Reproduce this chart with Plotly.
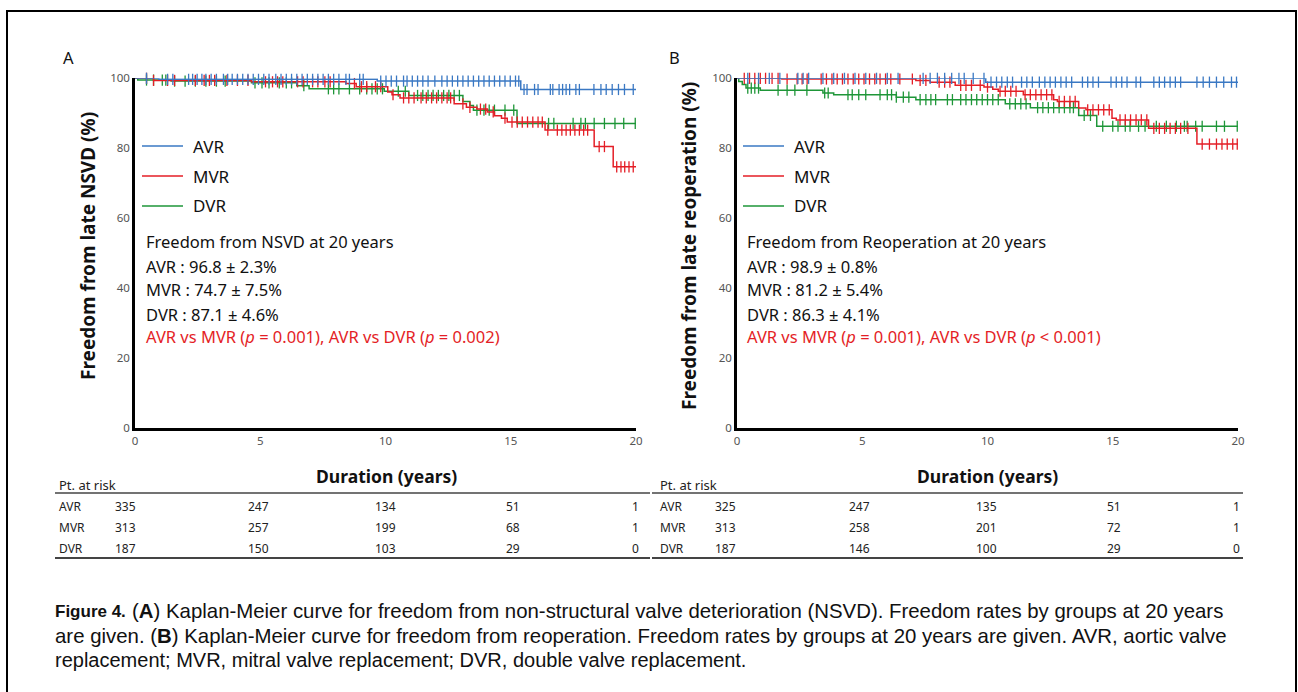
import numpy as np
import plotly.graph_objects as go

W, H = 1298, 692

# ---------------- DATA ----------------
groups = ["AVR", "MVR", "DVR"]
colors = {"AVR": "#3a78c3", "MVR": "#e41e26", "DVR": "#1e9638"}

# Panel A: freedom from late NSVD (step times in years, survival %)
a_avr_t = [0, 0.95, 9.67, 15.4]
a_avr_s = [100, 99.7, 99.2, 96.8]
a_mvr_t = [0, 0.74, 4.65, 8.42, 8.83, 10.09, 10.26, 10.58, 12.74, 13.23, 13.65, 14.07, 14.35, 14.63, 14.86, 16.37, 18.33, 19.09]
a_mvr_s = [100, 99.4, 99.0, 98.5, 97.6, 96.1, 95.3, 94.4, 92.7, 91.7, 91.2, 90.4, 89.3, 88.6, 87.5, 85.2, 80.5, 74.7]
a_dvr_t = [0, 0.11, 1.44, 4.65, 6.46, 6.95, 9.95, 10.93, 13.09, 13.37, 13.51, 15.25]
a_dvr_s = [100, 99.5, 99.2, 98.7, 97.9, 97.0, 96.3, 95.1, 93.4, 92.2, 90.9, 87.1]

a_avr_c = [0.46, 1.30, 1.51, 2.14, 2.30, 2.48, 2.67, 2.83, 3.04, 3.25, 3.53, 3.70, 3.88, 4.09, 4.30, 4.51, 4.72,
           4.93, 5.14, 5.35, 5.62, 5.83, 6.04, 6.25, 6.46, 6.67, 6.88, 7.09, 7.30, 7.51, 7.72, 7.93, 8.14, 8.42,
           8.56, 8.97, 9.11, 9.81, 10.02, 10.23, 10.44, 10.72, 10.86, 11.07, 11.28, 11.49, 11.70, 11.97, 12.25,
           12.46, 12.67, 12.88, 13.09, 13.30, 13.51, 13.72, 13.93, 14.14, 14.35, 14.56, 14.77, 14.98, 15.19,
           15.32, 15.53, 15.65, 15.95, 16.09, 16.58, 16.68, 16.93, 17.07, 17.21, 17.35, 17.60, 17.74, 18.32,
           18.60, 18.81, 19.05, 19.30, 19.54, 19.89]
a_mvr_c = [0.46, 0.74, 1.30, 1.58, 2.41, 2.76, 2.97, 3.18, 3.67, 4.09, 4.51, 5.21, 5.49, 5.69, 5.90, 6.49, 6.71,
           7.09, 7.30, 7.58, 7.79, 8.76, 9.04, 9.25, 9.60, 9.81, 10.30, 10.72, 10.93, 11.14, 11.42, 11.63, 11.84,
           12.04, 12.25, 12.46, 12.60, 13.09, 13.37, 13.79, 14.00, 14.30, 14.77, 15.05, 15.26, 15.46, 15.67,
           15.88, 16.09, 16.26, 16.48, 16.86, 17.04, 17.21, 17.38, 17.56, 17.74, 17.91, 18.07, 18.53, 18.74,
           19.23, 19.40, 19.55, 19.72, 19.89]
a_dvr_c = [0.46, 0.74, 1.09, 1.23, 1.58, 2.00, 2.41, 2.83, 3.25, 3.60, 4.79, 5.07, 5.35, 5.76, 6.04, 6.25, 6.74,
           7.72, 7.93, 8.14, 8.56, 8.97, 9.25, 9.46, 9.67, 9.88, 10.51, 10.79, 11.28, 11.49, 11.70, 11.90, 12.11,
           12.32, 12.53, 12.74, 12.95, 13.65, 13.93, 14.14, 14.35, 14.77, 15.12, 16.51, 16.72, 17.49, 17.80,
           17.98, 18.33, 18.74, 19.16, 19.51, 19.97]

# Panel B: freedom from late reoperation
b_avr_t = [0, 9.93]
b_avr_s = [100, 98.9]
b_mvr_t = [0, 1.79, 7.14, 7.71, 8.71, 9.86, 10.21, 10.43, 11.43, 12.64, 12.79, 13.64, 13.93, 14.97, 15.14, 16.43, 18.36]
b_mvr_s = [100, 99.8, 99.4, 98.9, 98.0, 97.5, 96.9, 96.3, 95.3, 93.9, 93.4, 91.5, 91.0, 88.6, 88.1, 85.7, 81.2]
b_dvr_t = [0, 0.07, 0.21, 0.36, 0.93, 3.43, 3.86, 6.36, 7.14, 10.71, 11.71, 13.64, 14.36]
b_dvr_s = [100, 99.1, 98.2, 97.2, 96.6, 95.8, 95.3, 94.6, 93.9, 92.7, 91.6, 89.4, 86.3]

b_avr_c = [0.43, 0.86, 1.29, 1.71, 2.43, 2.64, 2.86, 3.43, 3.86, 4.29, 4.71, 5.14, 5.57, 6.00, 6.43, 7.43, 7.71,
           8.00, 8.29, 8.57, 8.86, 9.07, 9.43, 9.86, 10.14, 10.36, 10.57, 10.79, 11.00, 11.36, 11.57, 11.79,
           12.07, 12.29, 12.50, 12.71, 12.93, 13.14, 13.36, 13.79, 14.00, 14.21, 14.43, 14.93, 15.14, 15.36,
           15.57, 15.93, 16.11, 16.64, 16.86, 17.07, 17.29, 17.50, 17.71, 18.36, 18.61, 18.86, 19.14, 19.43,
           19.74, 19.94]
b_mvr_c = [0.29, 0.50, 0.71, 0.93, 1.14, 1.40, 1.64, 2.00, 2.40, 2.60, 2.80, 3.36, 3.57, 3.79, 4.00, 4.21, 4.43,
           4.64, 4.86, 5.07, 5.29, 5.50, 5.71, 5.93, 6.14, 6.50, 7.00, 7.31, 7.54, 8.07, 8.29, 8.50, 8.93, 9.14,
           9.36, 9.71, 10.00, 10.50, 10.71, 10.93, 11.14, 11.50, 11.71, 11.93, 12.14, 12.36, 12.57, 12.86, 13.07,
           13.29, 13.50, 14.00, 14.21, 14.43, 14.64, 14.86, 15.29, 15.50, 15.71, 15.93, 16.14, 16.36, 16.64,
           16.86, 17.07, 17.29, 17.50, 17.71, 18.00, 18.57, 18.86, 19.14, 19.36, 19.57, 19.79, 19.97]
b_dvr_c = [0.43, 0.57, 0.71, 0.86, 1.64, 2.00, 2.31, 2.79, 3.50, 3.64, 4.43, 4.60, 4.86, 5.14, 5.71, 6.00, 6.17,
           6.36, 6.64, 6.86, 7.31, 7.54, 7.74, 7.93, 8.40, 8.60, 8.93, 9.14, 9.36, 9.57, 9.79, 10.00, 10.21,
           10.43, 10.89, 11.11, 11.33, 11.54, 12.00, 12.21, 12.43, 12.64, 12.86, 13.07, 13.29, 13.43, 13.86,
           14.11, 14.60, 15.00, 15.21, 15.50, 15.69, 16.03, 16.29, 16.74, 17.14, 17.54, 17.86, 17.97, 18.31,
           18.57, 19.14, 19.46, 19.97]

# Numbers at risk at 0, 5, 10, 15, 20 years
risk_years = [0, 5, 10, 15, 20]
a_risk = {"AVR": [335, 247, 134, 51, 1], "MVR": [313, 257, 199, 68, 1], "DVR": [187, 150, 103, 29, 0]}
b_risk = {"AVR": [325, 247, 135, 51, 1], "MVR": [313, 258, 201, 72, 1], "DVR": [187, 146, 100, 29, 0]}

a_stats = ["AVR : 96.8 ± 2.3%", "MVR : 74.7 ± 7.5%", "DVR : 87.1 ± 4.6%"]
b_stats = ["AVR : 98.9 ± 0.8%", "MVR : 81.2 ± 5.4%", "DVR : 86.3 ± 4.1%"]
a_pval = "AVR vs MVR (<i>p</i> = 0.001), AVR vs DVR (<i>p</i> = 0.002)"
b_pval = "AVR vs MVR (<i>p</i> = 0.001), AVR vs DVR (<i>p</i> < 0.001)"

panel_A = {"AVR": (a_avr_t, a_avr_s, a_avr_c), "MVR": (a_mvr_t, a_mvr_s, a_mvr_c), "DVR": (a_dvr_t, a_dvr_s, a_dvr_c)}
panel_B = {"AVR": (b_avr_t, b_avr_s, b_avr_c), "MVR": (b_mvr_t, b_mvr_s, b_mvr_c), "DVR": (b_dvr_t, b_dvr_s, b_dvr_c)}

# ---------------- FIGURE ----------------
FONT = "Noto Sans, Open Sans, DejaVu Sans, sans-serif"
CAPFONT = "Liberation Sans, Arial, sans-serif"


def px(x):
    return x / W


def py(y):
    return 1 - y / H


fig = go.Figure()

order = ["DVR", "MVR", "AVR"]
for panel, (xa, ya) in ((panel_A, ("x", "y")), (panel_B, ("x2", "y2"))):
    for g in order:
        t, s, c = panel[g]
        tx = list(t) + [20]
        sy = list(s) + [s[-1]]
        fig.add_trace(go.Scatter(x=tx, y=sy, mode="lines", line=dict(color=colors[g], width=1.5, shape="hv"),
                                 xaxis=xa, yaxis=ya, showlegend=False, cliponaxis=False, hoverinfo="skip"))
        ta = np.array(t)
        sa = np.array(s)
        idx = np.searchsorted(ta, np.array(c), side="right") - 1
        fig.add_trace(go.Scatter(x=c, y=sa[idx], mode="markers",
                                 marker=dict(symbol="line-ns", size=8, color=colors[g],
                                             line=dict(color=colors[g], width=1.3)),
                                 xaxis=xa, yaxis=ya, showlegend=False, cliponaxis=False, hoverinfo="skip"))

ydom = [py(428.3), py(78.3)]
axis_common = dict(showgrid=False, zeroline=False, showline=True, linecolor="black", linewidth=2.5,
                   ticks="", automargin=False, tickfont=dict(family=FONT, size=11.5, color="#555"))
fig.update_layout(
    template="none",
    width=W, height=H, margin=dict(l=0, r=0, t=0, b=0, pad=0, autoexpand=False),
    paper_bgcolor="white", plot_bgcolor="white",
    xaxis=dict(domain=[px(135), px(636)], range=[0, 20], tickvals=risk_years, anchor="y", **axis_common),
    yaxis=dict(domain=ydom, range=[0, 100], tickvals=[0, 20, 40, 60, 80, 100], anchor="x", **axis_common),
    xaxis2=dict(domain=[px(737), px(1238)], range=[0, 20], tickvals=risk_years, anchor="y2", **axis_common),
    yaxis2=dict(domain=ydom, range=[0, 100], tickvals=[0, 20, 40, 60, 80, 100], anchor="x2", **axis_common),
)

ann = []
shapes = []


def text(x, y, s, size=16, color="#111", bold=False, xanchor="left", family=FONT, angle=0):
    if bold:
        s = "<b>" + s + "</b>"
    ann.append(dict(x=px(x), y=py(y), xref="paper", yref="paper", text=s, showarrow=False,
                    xanchor=xanchor, yanchor="middle", textangle=angle,
                    font=dict(family=family, size=size, color=color)))


def hline(x0, x1, y, color="black", width=1):
    shapes.append(dict(type="line", xref="paper", yref="paper", x0=px(x0), x1=px(x1), y0=py(y), y1=py(y),
                       line=dict(color=color, width=width)))


# outer frame
shapes.append(dict(type="path", xref="paper", yref="paper",
                   path=f"M {px(7)},{py(700)} L {px(7)},{py(11)} L {px(1296)},{py(11)} L {px(1296)},{py(700)}",
                   line=dict(color="black", width=2)))

for off, panel_letter, ytitle, head, stats, pval, risk in (
        (0, "A", "Freedom from late NSVD (%)", "Freedom from NSVD at 20 years", a_stats, a_pval, a_risk),
        (601, "B", "Freedom from late reoperation (%)", "Freedom from Reoperation at 20 years", b_stats, b_pval, b_risk)):
    text(61 + off + (5 if off else 0), 57, panel_letter, size=16.5)
    text(88 + off, 246, ytitle, size=19, bold=True, xanchor="center", angle=-90)
    # legend
    for i, g in enumerate(groups):
        yy = 146 + i * 30
        hline(142 + off, 183 + off, yy, color=colors[g], width=1.5)
        text(191 + off, yy, g, size=17)
    # stats block
    text(144 + off, 242, head, size=16.5)
    for i, s in enumerate(stats):
        text(144 + off, 266 + i * 24, s, size=16.5)
    text(144 + off, 337, pval, size=16.5, color="#e41e26")
    # risk table
    text(386 + off, 476, "Duration (years)", size=17.5, bold=True, xanchor="center")
    text(57 + off, 485, "Pt. at risk", size=13, color="#222")
    x0l = 55 + off if off == 0 else 652
    x1l = 650 if off == 0 else 1243
    hline(x0l, x1l, 493, color="#444", width=1.5)
    hline(x0l, x1l, 558, color="#444", width=2)
    col_x = [125, 258, 385, 513, 636]
    for i, g in enumerate(groups):
        yy = 507 + i * 20.5
        text(57 + off, yy, g, size=12, color="#222")
        for j, v in enumerate(risk[g]):
            text(col_x[j] + off - (1 if j == 4 else 0), yy, str(v), size=12, color="#222", xanchor="center")

# caption
cap1 = "(<b>A</b>) Kaplan-Meier curve for freedom from non-structural valve deterioration (NSVD). Freedom rates by groups at 20 years"
cap2 = ("are given. (<b>B</b>) Kaplan-Meier curve for freedom from reoperation. Freedom rates by groups at 20 years "
        "are given. AVR, aortic valve")
cap3 = "replacement; MVR, mitral valve replacement; DVR, double valve replacement."
text(53, 611, "Figure 4.", size=17, bold=True, family=CAPFONT)
text(130, 611, cap1, size=20.4, family=CAPFONT)
text(53, 636, cap2, size=20.4, family=CAPFONT)
text(53, 660, cap3, size=20, family=CAPFONT)

fig.update_layout(annotations=ann, shapes=shapes)
fig.write_html("out.html", config={"displayModeBar": False},
               post_script="document.body.style.margin='0';document.body.style.overflow='hidden';")
